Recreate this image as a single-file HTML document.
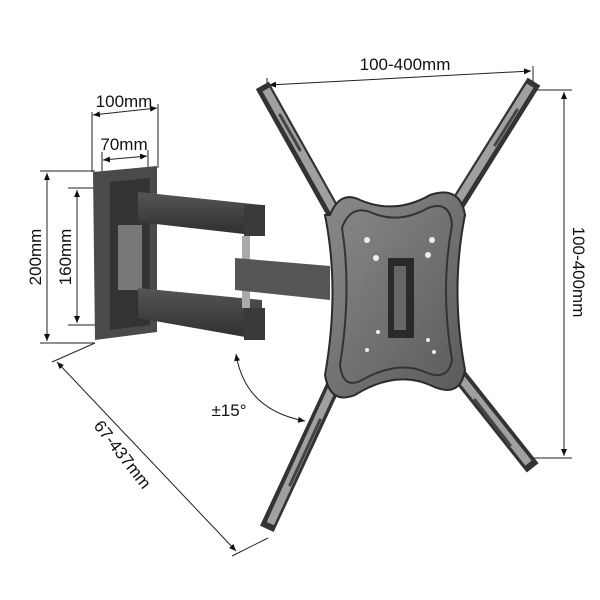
<!DOCTYPE html>
<html><head><meta charset="utf-8"><style>
html,body{margin:0;padding:0;background:#fff}
svg{display:block}
text{font-family:"Liberation Sans",sans-serif;fill:#111}
</style></head><body>
<svg width="600" height="600" viewBox="0 0 600 600" xmlns="http://www.w3.org/2000/svg">
<defs>
<marker id="a" markerWidth="8" markerHeight="8" refX="7" refY="4" orient="auto-start-reverse"><path d="M0,1 L7,4 L0,7 Z" fill="#111"/></marker>
<linearGradient id="arm" x1="0" y1="0" x2="0" y2="1"><stop offset="0" stop-color="#555"/><stop offset="1" stop-color="#2e2e2e"/></linearGradient>
<linearGradient id="pl" x1="0" y1="0" x2="1" y2="1"><stop offset="0" stop-color="#8a8a8a"/><stop offset="1" stop-color="#5a5a5a"/></linearGradient>
</defs>
<g stroke="#222" stroke-width="1" fill="none">
<line x1="92" y1="112" x2="92" y2="172"/><line x1="158" y1="104" x2="158" y2="168"/>
<line x1="93" y1="115" x2="157" y2="108" marker-start="url(#a)" marker-end="url(#a)"/>
<line x1="102" y1="152" x2="102" y2="185"/><line x1="148" y1="150" x2="148" y2="185"/>
<line x1="103" y1="160" x2="147" y2="156" marker-start="url(#a)" marker-end="url(#a)"/>
<line x1="40" y1="171" x2="95" y2="171"/><line x1="40" y1="343" x2="95" y2="343"/>
<line x1="47" y1="173" x2="47" y2="341" marker-start="url(#a)" marker-end="url(#a)"/>
<line x1="68" y1="188" x2="100" y2="188"/><line x1="68" y1="325" x2="100" y2="325"/>
<line x1="77" y1="190" x2="77" y2="323" marker-start="url(#a)" marker-end="url(#a)"/>
<line x1="52" y1="362" x2="95" y2="343"/><line x1="232" y1="556" x2="268" y2="538"/>
<line x1="57" y1="362" x2="236" y2="551" marker-start="url(#a)" marker-end="url(#a)"/>
<path d="M236,354 Q245,410 305,421" marker-start="url(#a)" marker-end="url(#a)"/>
<line x1="267" y1="78" x2="267" y2="100"/><line x1="533" y1="66" x2="533" y2="88"/>
<line x1="269" y1="85" x2="531" y2="71" marker-start="url(#a)" marker-end="url(#a)"/>
<line x1="535" y1="90" x2="572" y2="90"/><line x1="530" y1="458" x2="572" y2="458"/>
<line x1="564" y1="92" x2="564" y2="456" marker-start="url(#a)" marker-end="url(#a)"/>
</g>
<path d="M93,172 L157,166 L157,332 L95,340 Z" fill="#4a4a4a"/>
<path d="M110,182 L150,178 L150,325 L110,330 Z" fill="#333"/>
<rect x="118" y="225" width="24" height="65" fill="#777"/>
<path d="M138,192 L262,205 L262,236 L138,222 Z" fill="url(#arm)"/>
<rect x="244" y="205" width="21" height="31" fill="#3a3a3a"/>
<path d="M138,288 L262,300 L262,340 L138,318 Z" fill="url(#arm)"/>
<rect x="244" y="308" width="21" height="32" fill="#3a3a3a"/>
<rect x="242" y="236" width="8" height="72" fill="#aaa"/>
<path d="M235,258 L330,266 L330,300 L235,290 Z" fill="#555"/>
<g stroke="#333" stroke-width="15" stroke-linecap="square">
<line x1="266" y1="92" x2="335" y2="215"/>
<line x1="530" y1="88" x2="460" y2="200"/>
<line x1="336" y1="380" x2="270" y2="522"/>
<line x1="455" y1="370" x2="528" y2="462"/>
</g>
<g stroke="#a0a0a0" stroke-width="8" stroke-linecap="square">
<line x1="268" y1="93" x2="336" y2="214"/>
<line x1="528" y1="89" x2="459" y2="199"/>
<line x1="335" y1="382" x2="272" y2="520"/>
<line x1="456" y1="372" x2="526" y2="460"/>
</g>
<g stroke="#444" stroke-width="3" stroke-linecap="round">
<line x1="280" y1="115" x2="300" y2="150"/>
<line x1="517" y1="110" x2="495" y2="145"/>
<line x1="320" y1="420" x2="290" y2="485"/>
<line x1="475" y1="400" x2="510" y2="445"/>
</g>
<path d="M330,215 Q340,190 360,200 Q395,215 430,195 Q460,185 465,215 Q450,290 465,370 Q460,400 430,385 Q395,370 355,395 Q330,405 325,375 Q340,290 325,215 Z" fill="url(#pl)" stroke="#2a2a2a" stroke-width="2"/>
<path d="M342,228 Q350,205 370,212 Q398,225 428,208 Q450,200 452,225 Q440,290 452,360 Q448,382 425,372 Q398,360 362,380 Q343,390 340,365 Q352,290 342,228 Z" fill="none" stroke="#333" stroke-width="2"/>
<rect x="388" y="258" width="26" height="80" fill="#2a2a2a"/>
<rect x="394" y="266" width="12" height="64" fill="#666"/>
<g fill="#eee"><circle cx="367" cy="240" r="3"/><circle cx="376" cy="258" r="3"/><circle cx="432" cy="240" r="3"/><circle cx="428" cy="255" r="3"/><circle cx="378" cy="332" r="2"/><circle cx="428" cy="340" r="2"/><circle cx="367" cy="350" r="2"/><circle cx="434" cy="352" r="2"/></g>
<text x="124" y="107" font-size="17" text-anchor="middle">100mm</text>
<text x="124" y="150" font-size="17" text-anchor="middle">70mm</text>
<text font-size="17" text-anchor="middle" transform="translate(41,257) rotate(-90)">200mm</text>
<text font-size="17" text-anchor="middle" transform="translate(71,257) rotate(-90)">160mm</text>
<text font-size="17" text-anchor="middle" transform="translate(118,458) rotate(52)">67-437mm</text>
<text x="229" y="416" font-size="17" text-anchor="middle">±15°</text>
<text x="405" y="70" font-size="17" text-anchor="middle">100-400mm</text>
<text font-size="17" text-anchor="middle" transform="translate(573,272) rotate(90)">100-400mm</text>
</svg>
</body></html>
